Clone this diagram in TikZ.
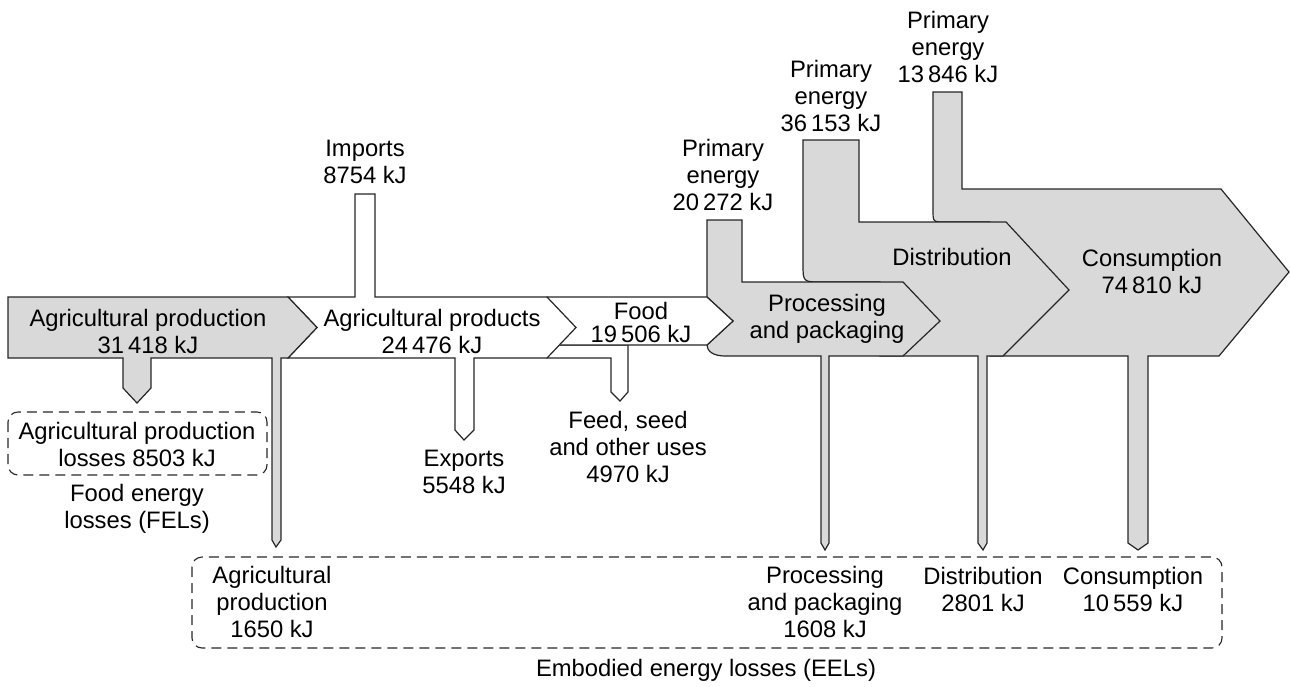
\documentclass[tikz,border=0pt]{standalone}
\usepackage{fontspec}
\setmainfont{Liberation Sans}
\usepackage{tikz}
\usetikzlibrary{calc}
\definecolor{flowgray}{HTML}{D9D9D9}
\definecolor{edge}{HTML}{262626}

\begin{document}
\begin{tikzpicture}[x=1pt, y=-1pt,
  grayflow/.style={draw=edge, fill=flowgray, line width=1.2pt},
  whiteflow/.style={draw=edge, fill=white, line width=1.2pt},
  lossbox/.style={draw=edge, line width=1.1pt, dash pattern=on 10pt off 6pt, rounded corners=10pt},
  lbl/.style={align=center, inner sep=0pt, font=\fontsize{23.8}{27}\selectfont}]

  \useasboundingbox (0,0) rectangle (1290,686);

  % back to front: consumption, distribution, processing
  \filldraw[grayflow] (933,92) -- (962,92) -- (962,189) -- (1221,189) -- (1289,272) -- (1219,356)
    -- (1148,356) -- (1148,543) -- (1138,550) -- (1128,543) -- (1128,356) -- (990,356) -- (990,222)
    -- (945,222) .. controls (933,222) .. (933,210) -- cycle;
  \filldraw[grayflow] (803,140) -- (859,140) -- (859,222) -- (1006,222) -- (1069,290) -- (1003,356)
    -- (987,356) -- (987,543) -- (983,550) -- (978,543) -- (978,356) -- (880,356) -- (880,282)
    -- (822,282) .. controls (803,282) .. (803,264) -- cycle;
  \filldraw[grayflow] (707,220) -- (742,220) -- (742,282) -- (903,282) -- (940,321) -- (903,356)
    -- (829,356) -- (829,543) -- (825,550) -- (821,543) -- (821,356) -- (725,356)
    .. controls (713,356) and (707,351) .. (707,345) -- (733,321) -- (707,297) -- cycle;

  % feed branch, food, agricultural products
  \filldraw[whiteflow] (547,345) -- (628,345) -- (628,392) -- (620,401) -- (611,392) -- (611,358)
    -- (547,358) -- cycle;
  \filldraw[whiteflow] (547,297) -- (707,297) -- (733,321) -- (707,345) -- (547,345) -- cycle;
  \filldraw[whiteflow] (288,297) -- (355,297) -- (355,194) -- (375,194) -- (375,297) -- (547,297)
    -- (576,327.5) -- (547,358) -- (474,358) -- (474,430) -- (464,440) -- (455,430) -- (455,358)
    -- (288,358) -- (317,327.5) -- cycle;

  % agricultural production
  \filldraw[grayflow] (8,297) -- (288,297) -- (317,327.5) -- (288,358) -- (281,358) -- (281,540)
    -- (276,547) -- (272,540) -- (272,358) -- (151,358) -- (151,388) -- (137,403) -- (123,388)
    -- (123,358) -- (8,358) -- cycle;

  \draw[lossbox] (8,412) rectangle (267,475);
  \draw[lossbox] (192,557) rectangle (1222,648);

  \node[lbl] (agprod) at (148,331) {Agricultural production\\31\,418 kJ};
  \node[lbl] (agprods) at (432,331) {Agricultural products\\24\,476 kJ};
  \node[lbl, font=\fontsize{23.8}{23}\selectfont] (food) at (641,322) {Food\\19\,506 kJ};
  \node[lbl] (imports) at (365,162) {Imports\\8754 kJ};
  \node[lbl] (exports) at (464,472) {Exports\\5548 kJ};
  \node[lbl] (feed) at (628,447) {Feed, seed\\and other uses\\4970 kJ};

  \node[lbl] (pe1) at (723,175) {Primary\\energy\\20\,272 kJ};
  \node[lbl] (pe2) at (831,96) {Primary\\energy\\36\,153 kJ};
  \node[lbl] (pe3) at (948,47) {Primary\\energy\\13\,846 kJ};

  \node[lbl] (proc) at (827,319) {Processing\\and packaging};
  \node[lbl] (dist) at (952,257) {Distribution};
  \node[lbl] (cons) at (1152,271) {Consumption\\74\,810 kJ};

  \node[lbl] (fel) at (137,444) {Agricultural production\\losses 8503 kJ};
  \node[lbl] (fels) at (137,509) {Food energy\\losses (FELs)};

  \node[lbl] (eelag) at (272,602) {Agricultural\\production\\1650 kJ};
  \node[lbl] (eelproc) at (825,602) {Processing\\and packaging\\1608 kJ};
  \node[lbl] (eeldist) at (983,589) {Distribution\\2801 kJ};
  \node[lbl] (eelcons) at (1133,589) {Consumption\\10\,559 kJ};
  \node[lbl] (eels) at (706,670) {Embodied energy losses (EELs)};

\end{tikzpicture}
\end{document}
